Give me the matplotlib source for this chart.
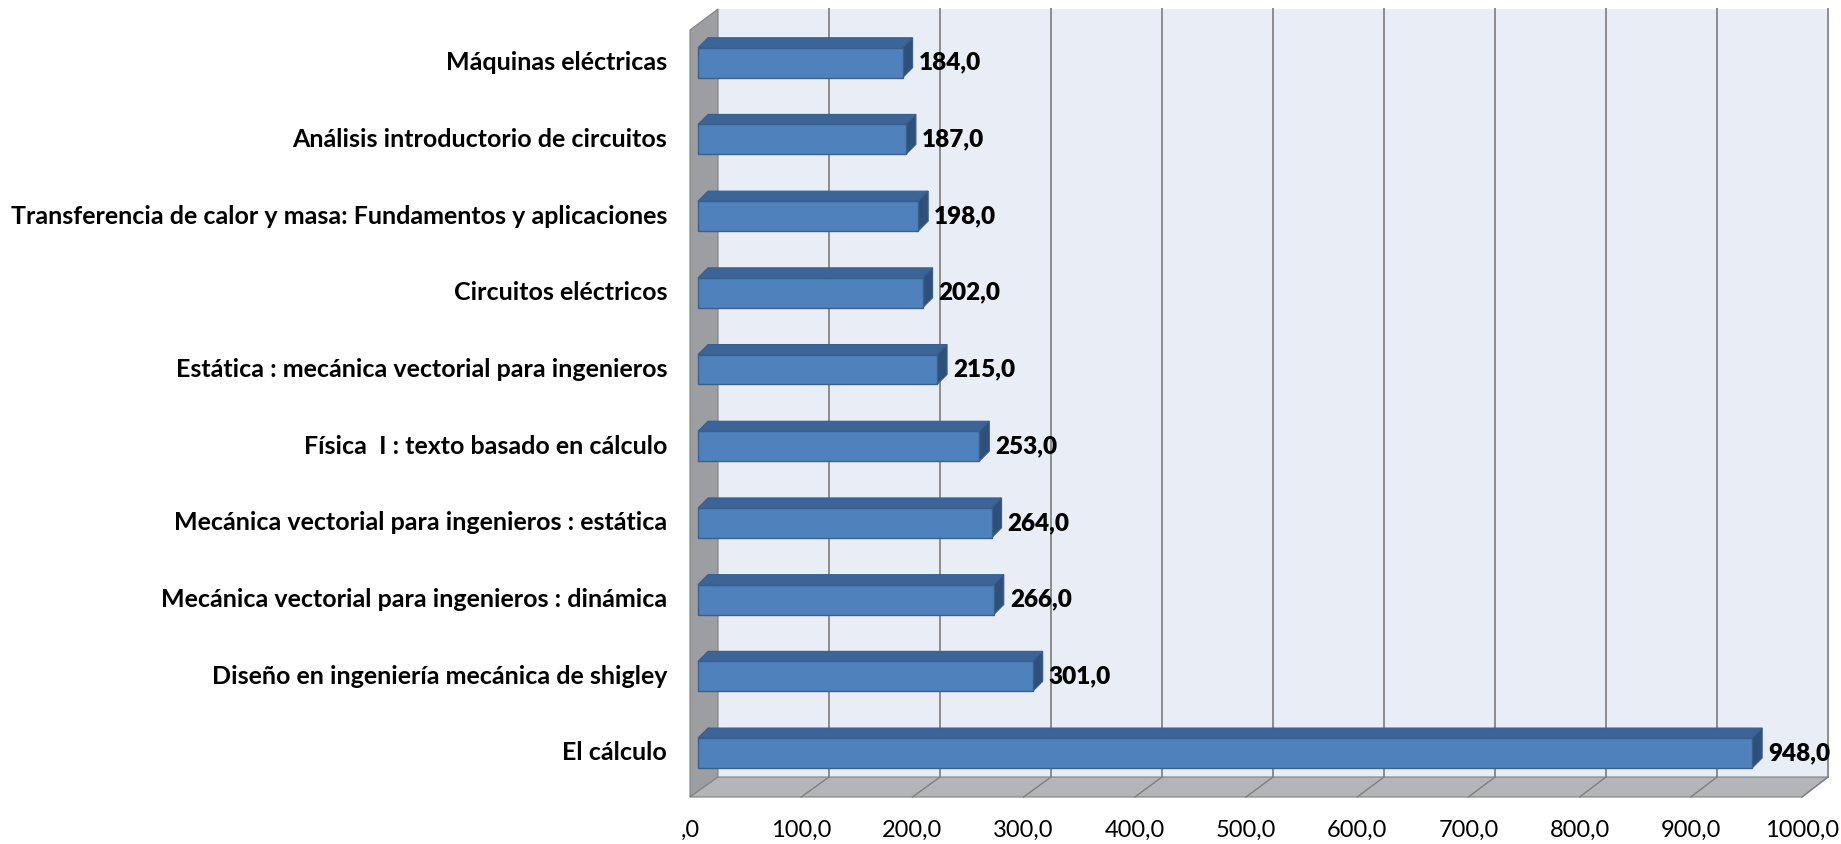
import matplotlib
matplotlib.use("Agg")
import matplotlib.pyplot as plt
from matplotlib.patches import Polygon

# --- data (bottom to top as drawn) ---
titles = [
    "El cálculo",
    "Diseño en ingeniería mecánica de shigley",
    "Mecánica vectorial para ingenieros : dinámica",
    "Mecánica vectorial para ingenieros : estática",
    "Física  I : texto basado en cálculo",
    "Estática : mecánica vectorial para ingenieros",
    "Circuitos eléctricos",
    "Transferencia de calor y masa: Fundamentos y aplicaciones",
    "Análisis introductorio de circuitos",
    "Máquinas eléctricas",
]
counts = [948.0, 301.0, 266.0, 264.0, 253.0, 215.0, 202.0, 198.0, 187.0, 184.0]
x_ticks = [0, 100, 200, 300, 400, 500, 600, 700, 800, 900, 1000]
x_tick_labels = [",0", "100,0", "200,0", "300,0", "400,0", "500,0",
                 "600,0", "700,0", "800,0", "900,0", "1000,0"]

# --- layout in pixels (figure is 1841 x 844) ---
W, H = 1841, 844
X0 = 698.0        # value 0 on bar front plane
PPX = 1.112       # pixels per unit of value
Y0 = 753.0        # centre of first category (from top)
PPY = 76.7        # pixels per category
BAR_H = 0.39      # bar thickness in category units
BAR_DX, BAR_DY = 10, 10   # bar depth in pixels

FRONT_L, BACK_L = 690, 718
FLOOR_FRONT, FLOOR_BACK = 797, 777
WALL_TOP, SIDE_TOP = 9, 30
BACK_R, FRONT_R = 1828, 1802

front_col = "#4F81BD"
top_col = "#3C6496"
side_col = "#30507C"
edge_col = "#3A5F8B"
wall_col = "#E9EDF6"
side_wall_col = "#9D9EA1"
floor_col = "#B3B5B9"
grid_col = "#8C8C8C"

FONT = ["Lato", "DejaVu Sans"]


def px_x(px):
    return (px - X0) / PPX


def px_y(py):
    return (Y0 - py) / PPY


fig = plt.figure(figsize=(W / 100, H / 100), dpi=100)
ax = fig.add_axes([0, 0, 1, 1])
ax.set_xlim(px_x(0), px_x(W))
ax.set_ylim(px_y(H), px_y(0))
ax.axis("off")

# walls and floor of the 3D box
back_scale = (BACK_R - BACK_L) / 1000.0
front_scale = (FRONT_R - FRONT_L) / 1000.0
ax.add_patch(Polygon([(px_x(BACK_L), px_y(WALL_TOP)), (px_x(BACK_R), px_y(WALL_TOP)),
                      (px_x(BACK_R), px_y(FLOOR_BACK)), (px_x(BACK_L), px_y(FLOOR_BACK))],
                     closed=True, fc=wall_col, ec="none", zorder=1))
ax.add_patch(Polygon([(px_x(FRONT_L), px_y(SIDE_TOP)), (px_x(BACK_L), px_y(WALL_TOP)),
                      (px_x(BACK_L), px_y(FLOOR_BACK)), (px_x(FRONT_L), px_y(FLOOR_FRONT))],
                     closed=True, fc=side_wall_col, ec="#808080", lw=0.8, zorder=1))
ax.add_patch(Polygon([(px_x(FRONT_L), px_y(FLOOR_FRONT)), (px_x(BACK_L), px_y(FLOOR_BACK)),
                      (px_x(BACK_R), px_y(FLOOR_BACK)), (px_x(FRONT_R), px_y(FLOOR_FRONT))],
                     closed=True, fc=floor_col, ec="#808080", lw=0.8, zorder=1))

for t, lab in zip(x_ticks, x_tick_labels):
    bx = px_x(BACK_L + t * back_scale)
    fx = px_x(FRONT_L + t * front_scale)
    if t > 0:
        ax.plot([bx, bx], [px_y(WALL_TOP), px_y(FLOOR_BACK)], color=grid_col, lw=1.4, zorder=2)
        ax.plot([bx, fx], [px_y(FLOOR_BACK), px_y(FLOOR_FRONT)], color="#7F7F7F", lw=1.0, zorder=2)
    ax.text(fx, px_y(830), lab, ha="center", va="center",
            fontsize=17, family=FONT, color="black")

# bars
ys = list(range(len(counts)))
dx = BAR_DX / PPX
dy = BAR_DY / PPY
ax.barh(ys, counts, height=BAR_H, left=0, color=front_col, edgecolor=edge_col,
        linewidth=1.0, zorder=4)
for y, v in zip(ys, counts):
    top = y + BAR_H / 2
    bot = y - BAR_H / 2
    ax.add_patch(Polygon([(0, top), (v, top), (v + dx, top + dy), (dx, top + dy)],
                         closed=True, fc=top_col, ec=edge_col, lw=0.8, zorder=3))
    ax.add_patch(Polygon([(v, bot), (v + dx, bot + dy), (v + dx, top + dy), (v, top)],
                         closed=True, fc=side_col, ec=edge_col, lw=0.8, zorder=3))
    ax.text(v + 16 / PPX, y, f"{v:.1f}".replace(".", ","), ha="left", va="center",
            fontsize=17.5, fontweight="heavy", family=FONT, color="black", zorder=5)

# category labels
for y, name in zip(ys, titles):
    ax.text(px_x(667), y, name, ha="right", va="center", fontsize=18,
            fontweight="bold", family=FONT, color="black")

fig.savefig("out.png", dpi=100)
